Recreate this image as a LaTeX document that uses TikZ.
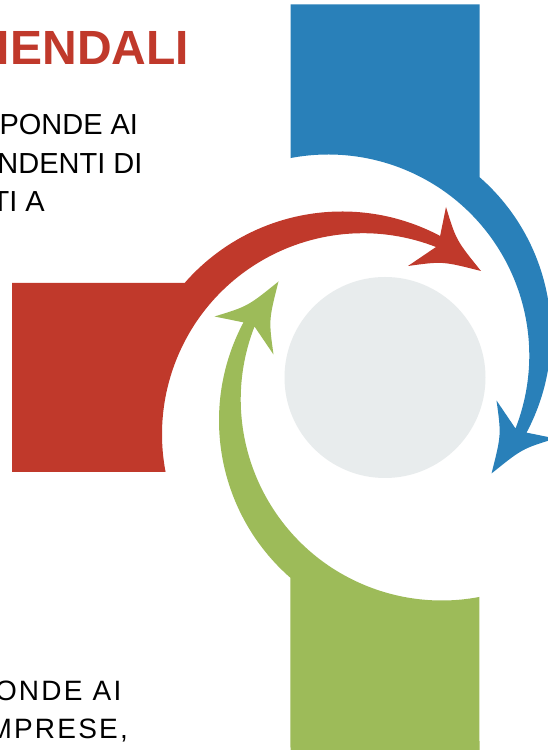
\documentclass[tikz,border=0pt]{standalone}
\usepackage{fontspec}
\setmainfont{Liberation Sans}
\newfontfamily\spacedfont[LetterSpace=8]{Liberation Sans}
\definecolor{armred}{RGB}{192,57,43}
\definecolor{armblue}{RGB}{41,128,185}
\definecolor{armgreen}{RGB}{157,187,89}
\definecolor{hubgrey}{RGB}{232,236,237}
\newcommand\armshape{(-373,-94.5) -- (-373,94.5) -- ([shift={(-43,-43)}]138.8:209)
  arc[start angle=138.8, end angle=62, radius=209]
  -- (61,170.5) .. controls (71.2,137.2) .. (96,106.5)
  .. controls (57.5,116.3) .. (23,111.5)
  -- (51,130.5) arc[start angle=68.7, end angle=190.8, radius=201] -- cycle}
\tikzset{
  bodytext/.style={anchor=base west, inner sep=0pt, outer sep=0pt, text=black,
    font=\fontsize{29}{29}\selectfont},
  lowtext/.style={anchor=base west, inner sep=0pt, outer sep=0pt, text=black,
    font=\spacedfont\fontsize{28}{28}\selectfont},
  titletext/.style={anchor=base west, inner sep=0pt, outer sep=0pt, text=armred,
    font=\bfseries\fontsize{48}{48}\selectfont}
}
\begin{document}
\begin{tikzpicture}[x=1pt,y=1pt]
\useasboundingbox (0,0) rectangle (548,750);
\clip (0,0) rectangle (548,750);
\fill[white] (0,0) rectangle (548,750);
% hub
\coordinate (C) at (385,372.5);
\fill[hubgrey] (C) circle[radius=100.5];
% three arms
\begin{scope}[shift={(C)}]
  \fill[armred] \armshape;
\end{scope}
\begin{scope}[shift={(C)}, rotate=-90]
  \fill[armblue] \armshape;
\end{scope}
\begin{scope}[shift={(C)}, rotate=90]
  \fill[armgreen] \armshape;
\end{scope}
% texts
\node[titletext] (title) at (-3,685) {IENDALI};
\node[bodytext] (l1) at (-0.5,615) {PONDE AI};
\node[bodytext] (l2) at (-2.5,576.5) {NDENTI DI};
\node[bodytext] (l3) at (-8.4,538.3) {TI A};
\node[lowtext] (b1) at (-5,49) {ONDE AI};
\node[lowtext] (b2) at (-11.5,11) {MPRESE,};
\end{tikzpicture}
\end{document}
